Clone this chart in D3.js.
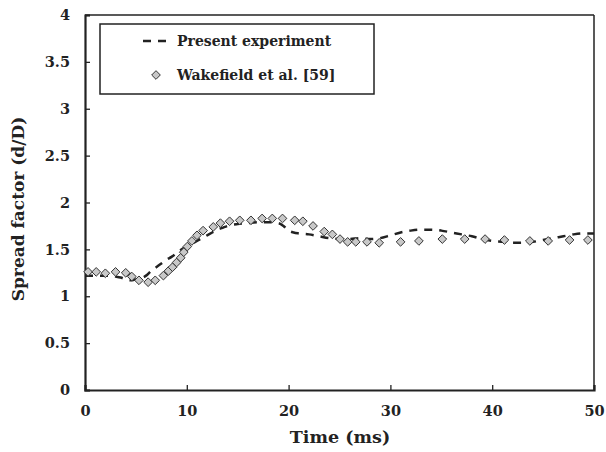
<!DOCTYPE html>
<html><head><meta charset="utf-8">
<script src="https://cdn.jsdelivr.net/npm/d3@7"></script>
<style>
body{margin:0;background:#fff;}
text{font-family:"DejaVu Serif",serif;font-weight:bold;fill:#222;}
</style></head>
<body><svg id="c" width="606" height="452"></svg>
<script>
// Present experiment (dashed line)
const expTime = [0,1,2,3,3.5,4,4.5,5,5.5,6,6.5,7,7.5,8,8.5,9,9.5,10,10.5,11,11.5,12,12.5,13,13.5,14,15,16,17,18,19,19.5,20,20.5,21,22,23,24,25,26,27,28,29,30,31,32,33,34,35,36,37,38,39,40,41,42,43,44,45,46,47,48,49,50];
const expSpread = [1.22,1.22,1.22,1.21,1.20,1.18,1.17,1.18,1.19,1.22,1.27,1.31,1.35,1.39,1.42,1.46,1.50,1.53,1.56,1.59,1.62,1.65,1.68,1.71,1.73,1.75,1.77,1.78,1.79,1.79,1.78,1.75,1.70,1.68,1.67,1.66,1.64,1.62,1.61,1.61,1.62,1.61,1.62,1.65,1.68,1.70,1.71,1.71,1.70,1.68,1.66,1.64,1.61,1.59,1.58,1.57,1.57,1.58,1.60,1.62,1.64,1.66,1.67,1.67];
// Wakefield et al. [59] (diamonds)
const wakeTime = [0.3,1.1,2.0,3.0,4.0,4.6,5.3,6.2,6.9,7.7,8.2,8.6,9.0,9.4,9.7,10.05,10.5,11.0,11.6,12.6,13.3,14.2,15.2,16.3,17.4,18.4,19.4,20.6,21.4,22.4,23.5,24.3,25.05,25.8,26.6,27.7,28.9,31.0,32.8,35.1,37.3,39.3,41.2,43.7,45.5,47.6,49.4];
const wakeSpread = [1.26,1.26,1.245,1.26,1.25,1.21,1.17,1.15,1.17,1.22,1.27,1.31,1.36,1.41,1.47,1.53,1.59,1.65,1.70,1.74,1.78,1.80,1.81,1.81,1.83,1.83,1.83,1.81,1.80,1.75,1.69,1.66,1.61,1.58,1.58,1.58,1.57,1.58,1.59,1.61,1.61,1.61,1.60,1.59,1.59,1.60,1.60];
const xTicks = [0,10,20,30,40,50];
const yTicks = [0,0.5,1,1.5,2,2.5,3,3.5,4];
const legendLabels = ["Present experiment","Wakefield et al. [59]"];

const svg = d3.select("#c");
const L=85, R=594, T=15, B=390;
const x = d3.scaleLinear().domain([0,50]).range([L,R]);
const y = d3.scaleLinear().domain([0,4]).range([B,T]);

// frame top/right
svg.append("line").attr("x1",L).attr("x2",R).attr("y1",T).attr("y2",T).attr("stroke","#222").attr("stroke-width",1.5);
svg.append("line").attr("x1",R).attr("x2",R).attr("y1",T).attr("y2",B).attr("stroke","#222").attr("stroke-width",1.5);

const xAxis = svg.append("g").attr("transform",`translate(0,${B})`)
  .call(d3.axisBottom(x).tickValues(xTicks).tickSize(-5).tickPadding(16).tickFormat(d3.format("d")));
const yAxis = svg.append("g").attr("transform",`translate(${L},0)`)
  .call(d3.axisLeft(y).tickValues(yTicks).tickSize(-5).tickPadding(15).tickFormat(d=>String(d)));
[xAxis,yAxis].forEach(g=>{
  g.select(".domain").attr("stroke","#222").attr("stroke-width",2.2);
  g.selectAll(".tick line").attr("stroke","#222").attr("stroke-width",1.3);
  g.selectAll("text").attr("font-size",14.5).attr("fill","#222").attr("font-family","DejaVu Serif").attr("font-weight","bold");
});

// line
const line = d3.line().x((d,i)=>x(expTime[i])).y(d=>y(d)).curve(d3.curveMonotoneX);
svg.append("path").datum(expSpread).attr("d",line).attr("fill","none")
  .attr("stroke","#222").attr("stroke-width",2.5).attr("stroke-dasharray","8,7");

// diamonds
const diamond = d3.symbol().type(d3.symbolDiamond2).size(48);
svg.append("g").selectAll("path").data(wakeSpread).join("path")
  .attr("d",diamond)
  .attr("transform",(d,i)=>`translate(${x(wakeTime[i])},${y(d)})`)
  .attr("fill","#c8c8c8").attr("stroke","#333").attr("stroke-width",1);

// axis titles
svg.append("text").attr("x",340).attr("y",443).attr("text-anchor","middle").attr("font-size",17.5).text("Time (ms)");
svg.append("text").attr("transform",`translate(24,209) rotate(-90)`).attr("text-anchor","middle").attr("font-size",17).text("Spread factor  (d/D)");

// legend
const lg = svg.append("g");
lg.append("rect").attr("x",100).attr("y",24).attr("width",274).attr("height",70).attr("fill","#fff").attr("stroke","#222").attr("stroke-width",1.5);
lg.append("line").attr("x1",143).attr("x2",168).attr("y1",41).attr("y2",41).attr("stroke","#222").attr("stroke-width",2.5).attr("stroke-dasharray","8,7");
lg.append("path").attr("d",diamond).attr("transform","translate(156,75)").attr("fill","#c8c8c8").attr("stroke","#333").attr("stroke-width",1);
lg.append("text").attr("x",177).attr("y",46).attr("font-size",14).text(legendLabels[0]);
lg.append("text").attr("x",177).attr("y",80).attr("font-size",14).text(legendLabels[1]);
</script></body></html>
